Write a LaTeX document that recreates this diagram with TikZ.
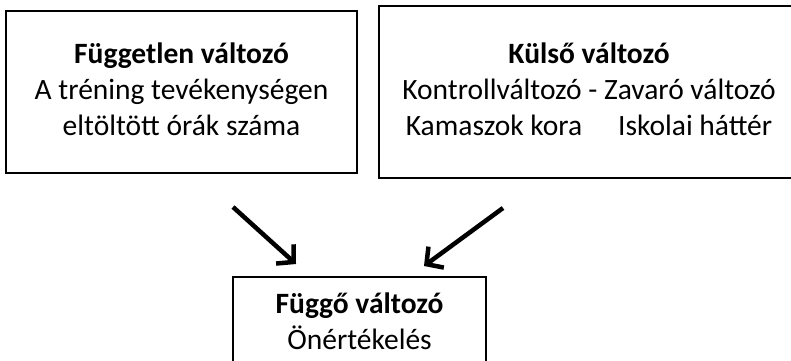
\documentclass[tikz,border=0pt]{standalone}
\usepackage{fontspec}
\setmainfont{Carlito}
\usetikzlibrary{arrows.meta}
\begin{document}
\begin{tikzpicture}[x=1pt,y=-1pt,
  varbox/.style={draw=black, line width=1.5pt, align=center, inner sep=0pt,
    font=\fontsize{29.5}{36}\selectfont, text=black},
  bigarrow/.style={line width=4.5pt, black,
    -{Straight Barb[length=12pt, width=26pt, line width=4.5pt]}}]
  \useasboundingbox (0,0) rectangle (791,360);
  \clip (0,0) rectangle (791,360);

  % independent variable
  \node[varbox, minimum width=351pt, minimum height=162pt] (indep) at (181.5,92)
    {\strut\textbf{Független változó}\\
     \strut A tréning tevékenységen\\
     \strut eltöltött órák száma};

  % external variable
  \node[varbox, minimum width=420pt, minimum height=171.7pt] (extern) at (589,91.9)
    {\strut\textbf{Külső változó}\\
     \strut Kontrollváltozó - Zavaró változó\\
     \strut Kamaszok kora\hspace{36pt}Iskolai háttér};

  % dependent variable
  \node[varbox, minimum width=253pt, minimum height=94pt] (dep) at (359.5,324)
    {\strut\textbf{Függő változó}\\
     \strut Önértékelés};

  % arrow end points
  \coordinate (ltail) at (233,207);
  \coordinate (lhead) at (296,264);
  \coordinate (rtail) at (503,208);
  \coordinate (rhead) at (424,266);

  \draw[bigarrow] (ltail) -- (lhead);
  \draw[bigarrow] (rtail) -- (rhead);
\end{tikzpicture}
\end{document}
